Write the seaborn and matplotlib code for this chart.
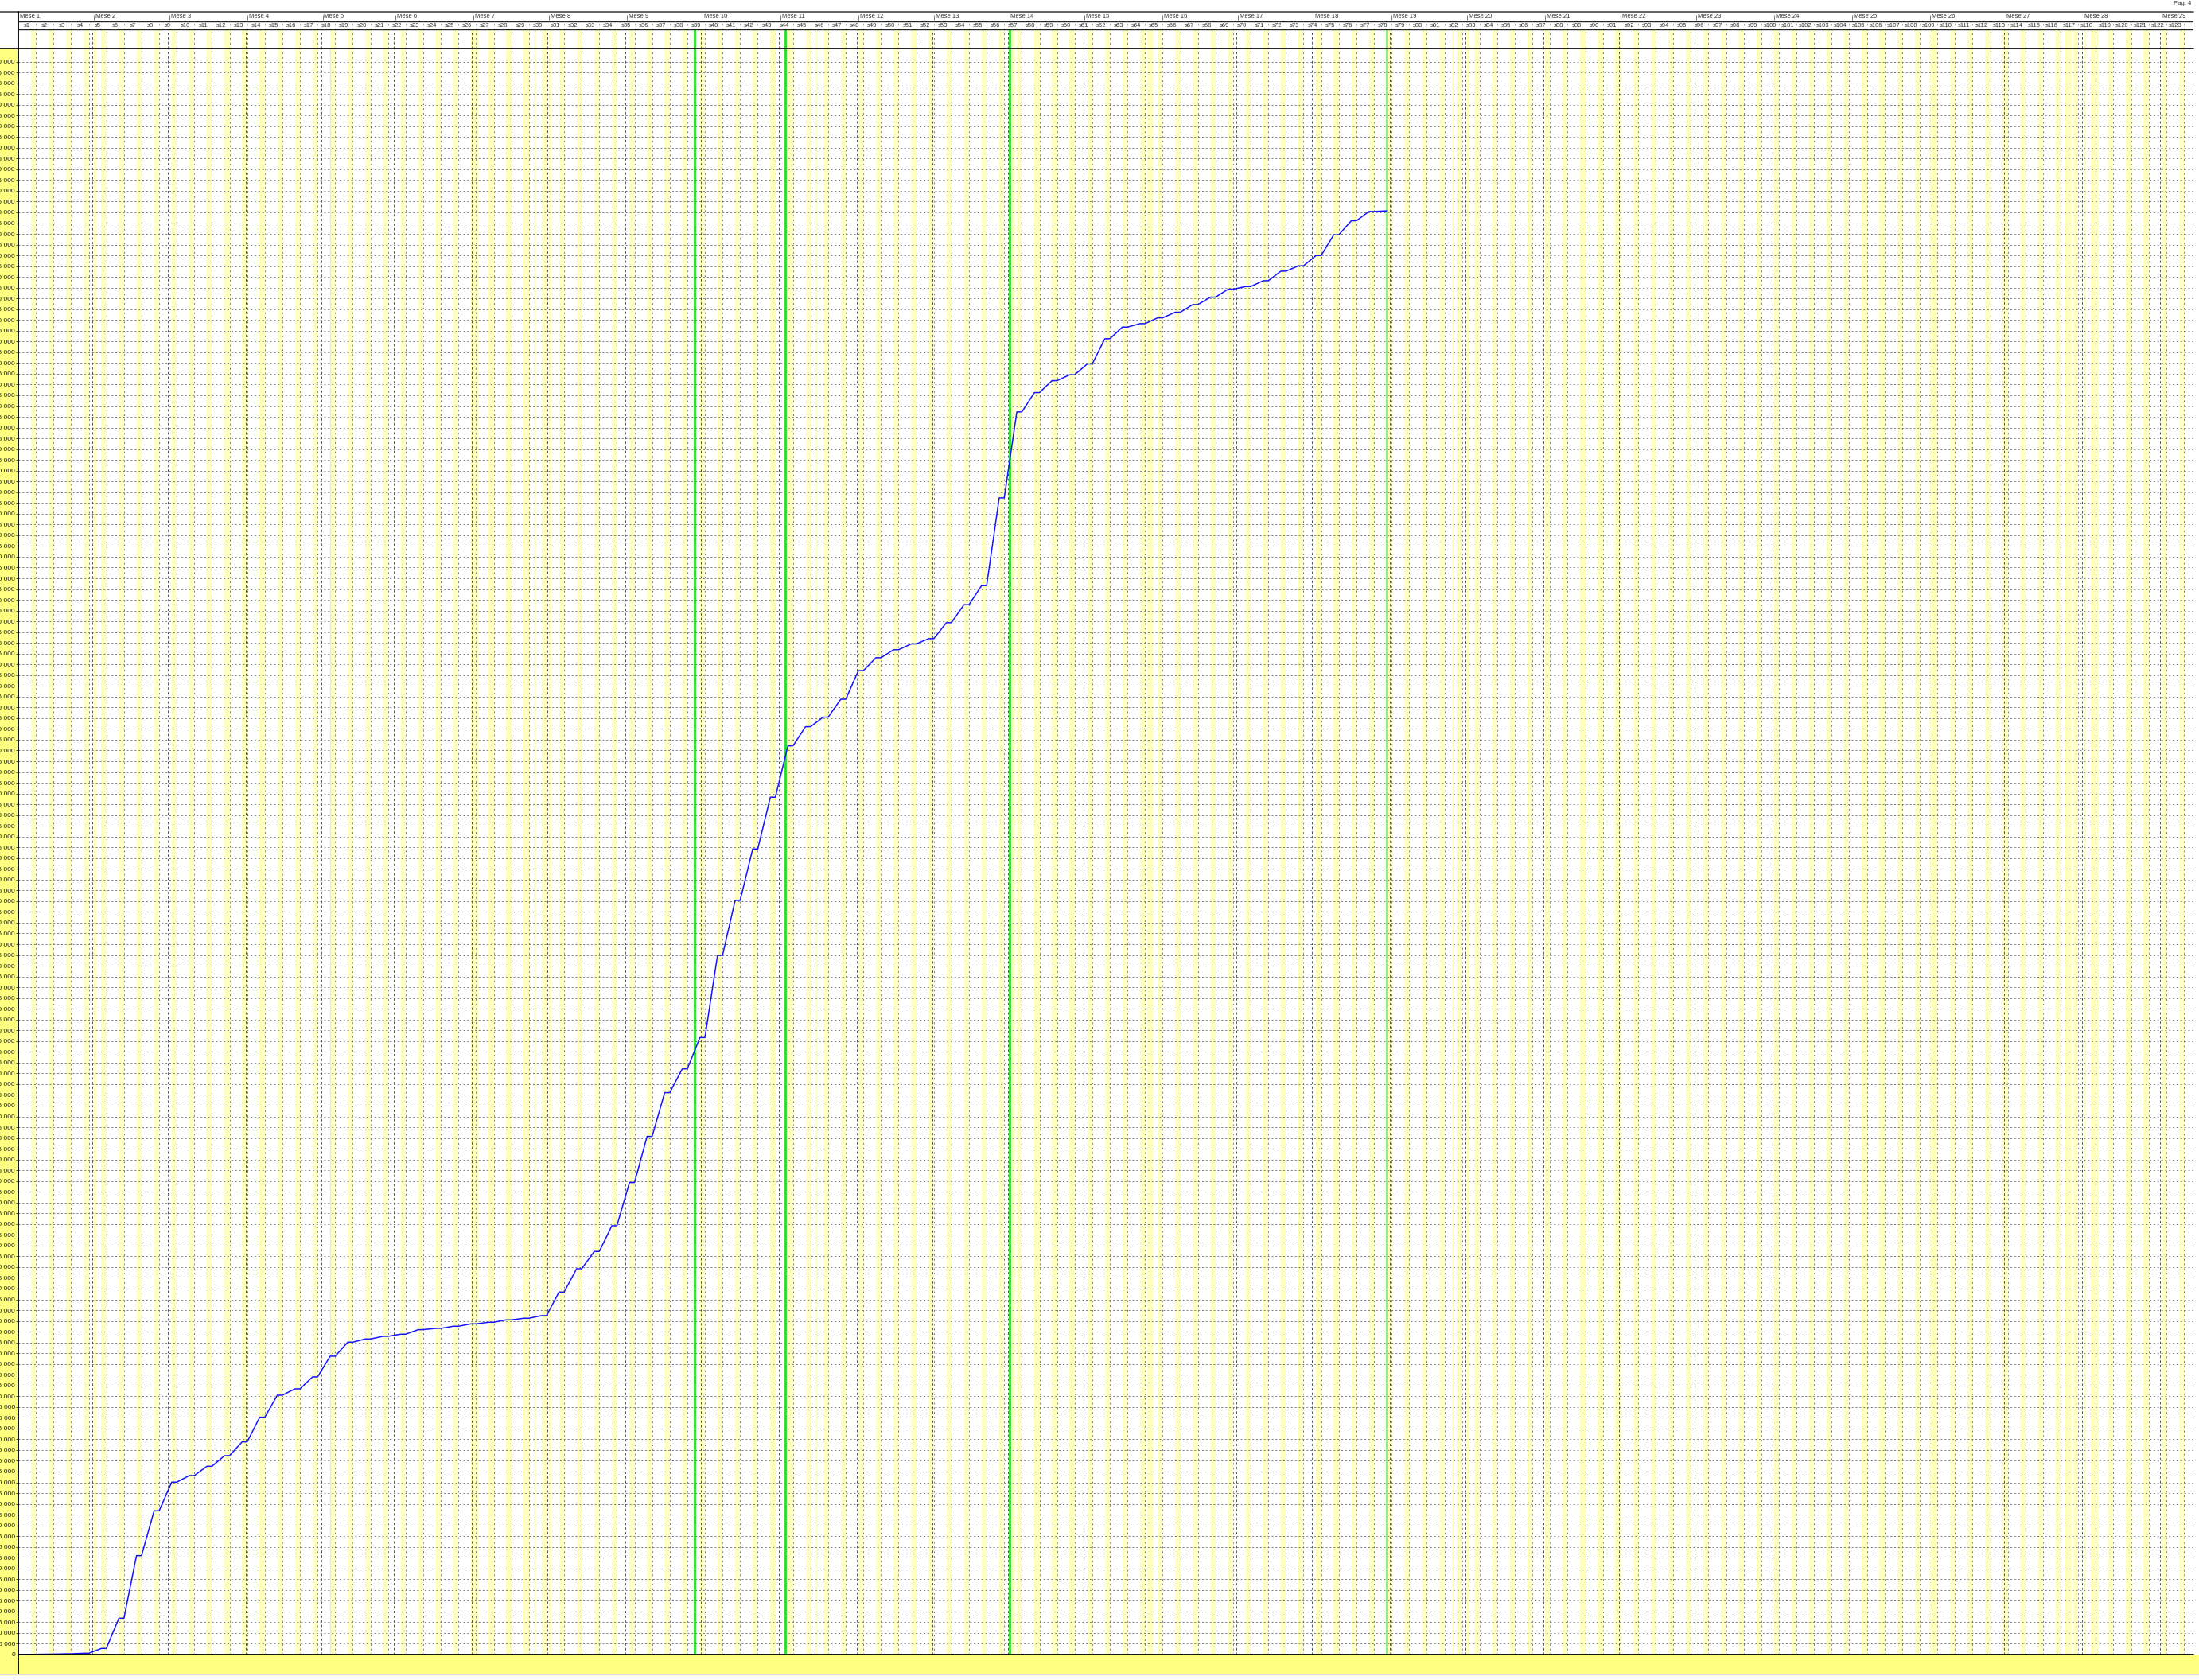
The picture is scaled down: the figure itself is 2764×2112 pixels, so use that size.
import numpy as np
import pandas as pd
import matplotlib
matplotlib.use('Agg')
import matplotlib.pyplot as plt
from matplotlib.lines import Line2D
from matplotlib.patches import Rectangle
import seaborn as sns

# cumulative value at the end of each week (s1 .. s78)
week_totals = [100, 200, 350, 600, 2830, 16880, 45950, 66770, 80080, 83160,
               87470, 92400, 98800, 110260, 120490, 123440, 128990, 138600, 145130, 146600,
               147840, 148830, 150920, 151540, 152520, 153630, 154370, 155480, 156220, 157450,
               168410, 179260, 187260, 199210, 219300, 240730, 261060, 272100, 286640, 324830,
               350370, 374260, 398280, 422160, 431050, 435490, 443820, 457100, 463110, 466800,
               469510, 471970, 479370, 487740, 496610, 537370, 577280, 586270, 591810, 594530,
               599580, 611280, 616700, 618300, 621010, 623600, 627170, 630610, 634300, 635540,
               638240, 642680, 645150, 649950, 659560, 666100, 670400, 670700]

# first day (offset from day 0) of each month
month_starts = [0, 30, 60, 91, 121, 150, 181, 211, 242, 272, 303, 334, 364, 394, 424,
                455, 485, 515, 546, 576, 607, 637, 667, 698, 729, 760, 790, 821, 852]
month_labels = ['Mese %d' % (i + 1) for i in range(len(month_starts))]
week_labels = ['s%d' % (i + 1) for i in range(123)]

# extra non working days (weekends are added below)
holidays = [30, 182, 205, 211, 317, 395, 449, 450, 570, 576, 760, 814, 815, 821, 826]

# green markers
marker_days = [269, 305, 394]
today_day = 544
faint_day = 124

W, H = 2764, 2112
X0, X1 = 23, 2757
Y_TOP, Y_HEAD, Y_BOT = 15, 61, 2080
day_px = 3.1614
xmax = (X1 - X0) / day_px
ymax = (Y_BOT - Y_HEAD) * 5000 / 13.53

def fx(px):
    return px / W

def fy(py):
    return 1 - py / H

sns.set_style('white')
plt.rcParams['font.family'] = ['Liberation Sans', 'DejaVu Sans']

fig = plt.figure(figsize=(W / 100, H / 100), dpi=100)
fig.patch.set_facecolor('white')

yellow = '#ffff80'
pale = '#ffffbe'
grid_col = '#7a7a7a'

# left and bottom yellow panels
fig.patches.append(Rectangle((0, fy(2105)), fx(X0), fy(Y_HEAD) - fy(2105),
                             transform=fig.transFigure, color=yellow, zorder=-1))
fig.patches.append(Rectangle((0, fy(2105)), 1, fy(Y_BOT) - fy(2105),
                             transform=fig.transFigure, color=yellow, zorder=-1))

ax = fig.add_axes([fx(X0), fy(Y_BOT), fx(X1) - fx(X0), fy(Y_HEAD) - fy(Y_BOT)])
hax = fig.add_axes([fx(X0), fy(Y_HEAD), fx(X1) - fx(X0), fy(Y_TOP) - fy(Y_HEAD)])

n_weeks = int(np.ceil(xmax / 7))
off_days = [(7 * k + 5, 7 * k + 7) for k in range(n_weeks)] + [(d, d + 1) for d in holidays]

# main plot background
for a, b in off_days:
    ax.axvspan(a, b, color=pale, lw=0, zorder=0)
for k in range(1, n_weeks):
    ax.axvline(7 * k, color=grid_col, lw=0.7, linestyle=(0, (2, 4)), zorder=1)
for d in month_starts[1:]:
    ax.axvline(d - 0.6, color='#555555', lw=0.7, linestyle=(0, (3, 3)), zorder=1)

yticks = np.arange(0, 740001, 5000)
ax.set_yticks(yticks)
ax.set_yticklabels([('{:,}'.format(v)).replace(',', ' ') for v in yticks], fontsize=6)
ax.grid(axis='y', color=grid_col, linestyle=(0, (2, 3)), linewidth=0.7)
ax.set_axisbelow(True)
ax.tick_params(axis='y', length=2, width=0.6, pad=0.8, colors='#222222', left=True)
ax.set_xticks([])
ax.set_xlim(0, xmax)
ax.set_ylim(0, ymax)
for s in ['top', 'right', 'left', 'bottom']:
    ax.spines[s].set_visible(False)

for d in marker_days:
    ax.axvline(d, color='#1ee01e', lw=2.0, zorder=3)
ax.axvline(today_day, color='#70f070', lw=1.2, zorder=3)
ax.axvline(faint_day, color='#d4f2d4', lw=1.0, zorder=2)

# cumulative line: rises on working days, flat over the weekend
days, vals = [0], [0]
for k, v in enumerate(week_totals):
    days.append(7 * k + 5)
    vals.append(v)
    if k < len(week_totals) - 1:
        days.append(7 * k + 7)
        vals.append(v)
line_df = pd.DataFrame({'giorno': days, 'valore': vals})
sns.lineplot(data=line_df, x='giorno', y='valore', ax=ax, color='#1414ff',
             lw=1.1, estimator=None, sort=False, zorder=4)
ax.set_xlabel('')
ax.set_ylabel('')

# header with months and weeks
hax.set_xlim(0, xmax)
hax.set_ylim(0, 46)
hax.axis('off')
for a, b in off_days:
    hax.fill_between([a, b], 0, 24, color=pale, lw=0)
hax.vlines([7 * k for k in range(1, n_weeks)], 0, 34, color=grid_col, lw=0.7,
           linestyle=(0, (2, 4)))
hax.vlines([d - 0.6 for d in month_starts[1:]], 0, 24, color='#555555', lw=0.7,
           linestyle=(0, (3, 3)))
hax.vlines(month_starts[1:], 36, 42, color='#777777', lw=0.7)
for d in marker_days:
    hax.vlines(d, 0, 24, color='#1ee01e', lw=2.0)
hax.vlines(today_day, 0, 24, color='#70f070', lw=1.2)
for d, lab in zip(month_starts, month_labels):
    hax.text(d + 0.6, 40, lab, fontsize=5.5, color='#333333', ha='left', va='center')
for k, lab in enumerate(week_labels):
    hax.text(7 * k + 3.5, 29, lab, fontsize=5.5, color='#333333', ha='center', va='center')
hax.hlines([34, 24], 0, xmax, color='#222222', lw=1.0)

# frame lines
fig.add_artist(Line2D([0, fx(X1)], [fy(Y_TOP), fy(Y_TOP)], transform=fig.transFigure,
                      color='#444444', lw=1.2))
fig.add_artist(Line2D([0, fx(X1)], [fy(Y_HEAD), fy(Y_HEAD)], transform=fig.transFigure,
                      color='#111111', lw=1.3))
fig.add_artist(Line2D([fx(X0), fx(X1)], [fy(Y_BOT), fy(Y_BOT)], transform=fig.transFigure,
                      color='#000000', lw=1.3))
fig.add_artist(Line2D([fx(X0), fx(X0)], [fy(Y_TOP), fy(2105)], transform=fig.transFigure,
                      color='#000000', lw=1.3))
fig.add_artist(Line2D([0, 1], [fy(2105), fy(2105)], transform=fig.transFigure,
                      color='#dddddd', lw=0.8))

fig.text(fx(2754), fy(4), 'Pag. 4', fontsize=5.5, color='#333333', ha='right', va='center')

fig.savefig('out.png', dpi=100)
